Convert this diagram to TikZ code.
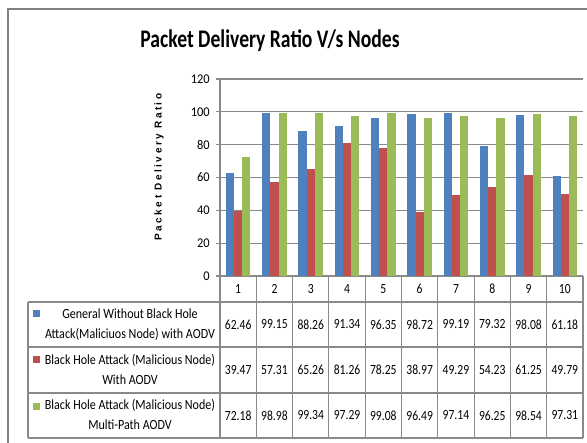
\documentclass[tikz,border=0pt]{standalone}
\usepackage{fontspec}
\setmainfont{Carlito}
\newfontfamily\axisfont[LetterSpace=25]{Liberation Sans}
\usetikzlibrary{positioning}
\definecolor{serblue}{HTML}{4F81BD}
\definecolor{serred}{HTML}{C0504D}
\definecolor{sergreen}{HTML}{9BBB59}
\definecolor{gridgray}{HTML}{8A8A8A}
\definecolor{framegray}{HTML}{808080}
\newcommand{\narrow}[2][0.83]{\scalebox{#1}[1]{#2}}
\tikzset{
  gridline/.style={draw=gridgray, line width=0.9pt},
  cellline/.style={draw=gridgray, line width=0.8pt},
  ticklabel/.style={font=\fontsize{10}{12}\selectfont, anchor=east, inner sep=0pt},
  cellval/.style={font=\fontsize{10.5}{12}\selectfont, inner sep=0pt},
  legendtext/.style={font=\fontsize{10.5}{15}\selectfont, inner sep=0pt},
  swatch/.style={minimum size=5.2pt, inner sep=0pt, draw=none},
  charttitle/.style={font=\bfseries\fontsize{19}{22}\selectfont, inner sep=0pt},
}

\begin{document}
\begin{tikzpicture}[x=0.75pt, y=-0.75pt]
\useasboundingbox (0,0) rectangle (587,443);
\clip (0,0) rectangle (587,443);
% chart frame
\draw[framegray, line width=1pt] (8,460) |- (600,9);
\node[charttitle] (title) at (270,41) {\narrow[0.775]{Packet Delivery Ratio V/s Nodes}};
\node[rotate=90, font=\axisfont\bfseries\fontsize{7.5}{9}\selectfont] (ylab) at (159,167) {Packet Delivery Ratio};

% gridlines and y ticks
\foreach \v in {0,20,...,120} {
  \draw[gridline] (216,{276-1.642*\v}) -- (583,{276-1.642*\v});
  \node[ticklabel] (tick\v) at (210,{276-1.642*\v}) {\narrow[0.93]{\v}};
}
\draw[gridline] (220,79) -- (220,276);

% bars
\foreach \a/\b/\c [count=\i] in {62.46/39.47/72.18, 99.15/57.31/98.98, 88.26/65.26/99.34,
    91.34/81.26/97.29, 96.35/78.25/99.08, 98.72/38.97/96.49, 99.19/49.29/97.14,
    79.32/54.23/96.25, 98.08/61.25/98.54, 61.18/49.79/97.31} {
  \pgfmathsetmacro\cx{220+36.3*(\i-0.5)}
  \fill[serblue] ({\cx-12.3},276) rectangle ({\cx-4.1},{276-1.642*\a});
  \fill[serred] ({\cx-4.1},276) rectangle ({\cx+4.1},{276-1.642*\b});
  \fill[sergreen] ({\cx+4.1},276) rectangle ({\cx+12.3},{276-1.642*\c});
  % table column
  \node[cellval] (head\i) at (\cx,289) {\narrow{\i}};
  \node[cellval] (rowa\i) at (\cx,324.5) {\narrow{\a}};
  \node[cellval] (rowb\i) at (\cx,370) {\narrow{\b}};
  \node[cellval] (rowc\i) at (\cx,415.5) {\narrow{\c}};
  \draw[cellline] ({220+36.3*\i},276) -- ({220+36.3*\i},438);
}

% data table
\foreach \y in {302,347,393,438}
  \draw[cellline] (28,\y) -- (583,\y);
\draw[cellline] (28,302) -- (28,438);
\draw[cellline] (220,276) -- (220,438);

\node[swatch, fill=serblue] (keya) at (36.5,313.5) {};
\node[swatch, fill=serred] (keyb) at (36.5,359.5) {};
\node[swatch, fill=sergreen] (keyc) at (36.5,406.5) {};
\node[legendtext] (laba) at (130,324.5) {\narrow[0.86]{\begin{tabular}{@{}c@{}}General Without Black Hole\\Attack(Maliciuos Node) with AODV\end{tabular}}};
\node[legendtext] (labb) at (130,370) {\narrow[0.86]{\begin{tabular}{@{}c@{}}Black Hole Attack (Malicious Node)\\With AODV\end{tabular}}};
\node[legendtext] (labc) at (130,415.5) {\narrow[0.86]{\begin{tabular}{@{}c@{}}Black Hole Attack (Malicious Node)\\Multi-Path AODV\end{tabular}}};
\end{tikzpicture}
\end{document}
